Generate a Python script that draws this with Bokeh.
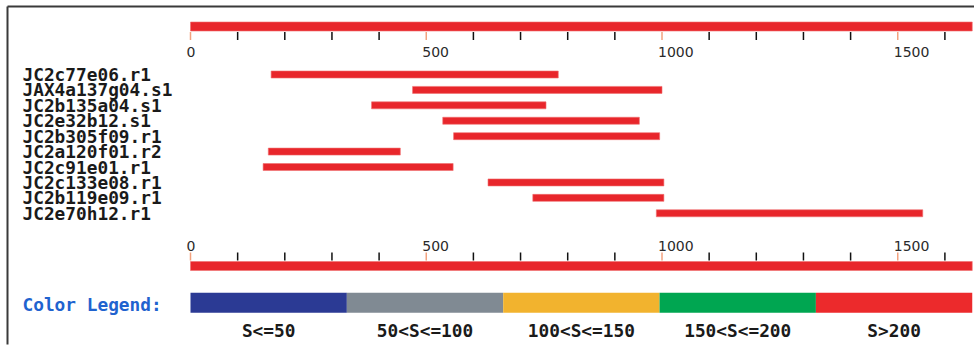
import numpy as np
from bokeh.plotting import figure
from bokeh.models import Range1d
from bokeh.core.properties import value
from bokeh.embed import file_html
from bokeh.resources import INLINE

# ---------------- data ----------------
QUERY_LEN = 1658
hit_names = ["JC2c77e06.r1", "JAX4a137g04.s1", "JC2b135a04.s1", "JC2e32b12.s1",
             "JC2b305f09.r1", "JC2a120f01.r2", "JC2c91e01.r1", "JC2c133e08.r1",
             "JC2b119e09.r1", "JC2e70h12.r1"]
hit_starts = [171, 471, 384, 535, 558, 165, 154, 631, 726, 988]
hit_ends = [780, 1000, 754, 952, 995, 445, 557, 1004, 1004, 1553]
major_ticks = [0, 500, 1000, 1500]
major_labels = ["0", "500", "1000", "1500"]
minor_ticks = [100, 200, 300, 400, 600, 700, 800, 900, 1100, 1200, 1300, 1400, 1600]
legend_labels = ["S<=50", "50<S<=100", "100<S<=150", "150<S<=200", "S>200"]
legend_colors = ["#2B3A94", "#808A93", "#F2B32E", "#00A651", "#EC2A2C"]
legend_title = "Color Legend:"

# ---------------- layout ----------------
W, H = 974, 348
X0_PX = 190.0
SCALE = 0.4715  # px per unit
x_lo = -X0_PX / SCALE
x_hi = (W - X0_PX) / SCALE

p = figure(width=W, height=H, output_backend="svg", toolbar_location=None,
           x_range=Range1d(x_lo, x_hi), y_range=Range1d(H, 0),
           min_border=0, min_border_left=0, min_border_right=0,
           min_border_top=0, min_border_bottom=0)
p.axis.visible = False
p.grid.visible = False
p.outline_line_color = None
p.background_fill_color = "white"
p.border_fill_color = "white"

px = 1.0 / SCALE  # one pixel in x data units

# frame lines (top and left)
p.segment(x0=[7 * px + x_lo, 7 * px + x_lo], y0=[6, 6],
          x1=[x_hi, 7 * px + x_lo], y1=[6, 344], line_color="#3a3a3a", line_width=2)

RED = "#E8262B"
MONO = value("DejaVu Sans Mono")
SANS = value("DejaVu Sans")
MONO_SIZE = value("17.8px")

# query bars (top and bottom)
for yc, tick_top, tick_bot, lab_y in [(26.0, 31.5, 39.5, 51.5), (265.5, 252.0, 260.0, 245.0)]:
    p.hbar(y=[yc], left=[0], right=[QUERY_LEN], height=9, fill_color=RED,
           line_color="#F07070", line_width=1, line_alpha=0.6)
    p.segment(x0=minor_ticks, x1=minor_ticks, y0=[tick_top] * len(minor_ticks),
              y1=[tick_bot] * len(minor_ticks), line_color="#111111", line_width=1.5)
    p.segment(x0=major_ticks, x1=major_ticks, y0=[tick_top] * len(major_ticks),
              y1=[tick_bot] * len(major_ticks), line_color="#F3A27F", line_width=1.5)
    p.text(x=major_ticks, y=[lab_y] * len(major_ticks), text=major_labels,
           x_offset=-4, text_align="left", text_baseline="middle",
           text_font=SANS, text_font_size=value("14px"), text_color="#2a2a2a")

# hit rows
ROW_TOP, ROW_STEP = 74.0, 15.42
row_y = [ROW_TOP + i * ROW_STEP for i in range(len(hit_names))]
p.hbar(y=row_y, left=hit_starts, right=hit_ends, height=7, fill_color=RED,
       line_color="#F07070", line_width=1, line_alpha=0.6)
p.text(x=[22 * px + x_lo] * len(hit_names), y=row_y, text=hit_names,
       text_align="left", text_baseline="middle", text_font=MONO,
       text_font_style="bold", text_font_size=MONO_SIZE, text_color="#1a1a1a")

# colour legend
edges = np.linspace(0, QUERY_LEN, len(legend_labels) + 1)
p.quad(left=edges[:-1], right=edges[1:], top=[292.3] * 5, bottom=[312.3] * 5,
       fill_color=legend_colors, line_color=None)
p.text(x=list((edges[:-1] + edges[1:]) / 2), y=[330] * 5, text=legend_labels,
       text_align="center", text_baseline="middle", text_font=MONO,
       text_font_style="bold", text_font_size=MONO_SIZE, text_color="#1a1a1a")
p.text(x=[22 * px + x_lo], y=[304], text=[legend_title], text_align="left",
       text_baseline="middle", text_font=MONO, text_font_style="bold",
       text_font_size=MONO_SIZE, text_color="#1F63CF")

open("out.html", "w").write(file_html(p, INLINE))
